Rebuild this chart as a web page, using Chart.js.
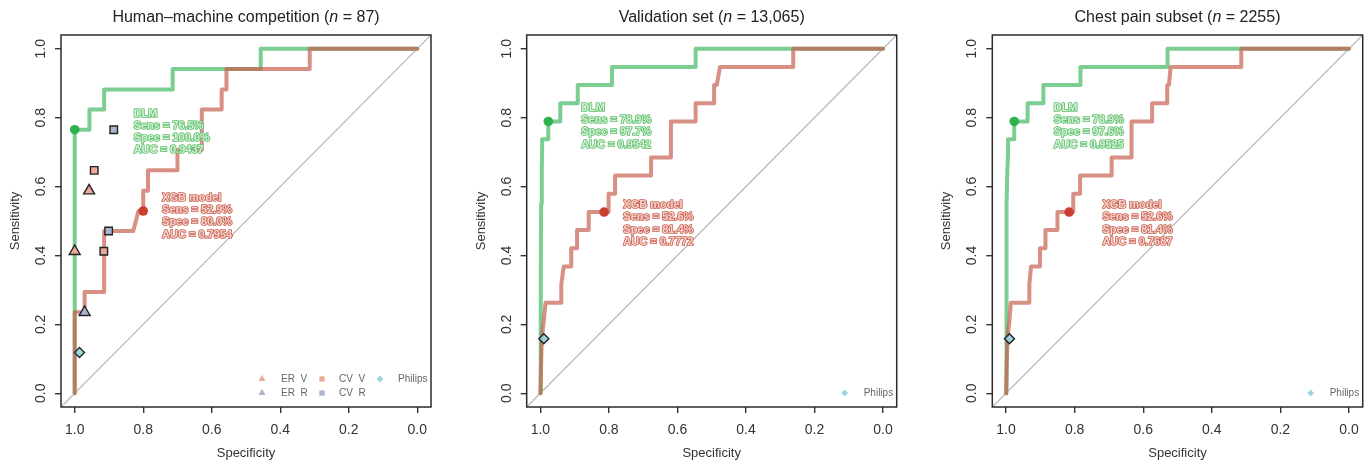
<!DOCTYPE html>
<html><head><meta charset="utf-8">
<script src="https://cdn.jsdelivr.net/npm/chart.js@4.4.1/dist/chart.umd.min.js"></script>
<style>
html,body{margin:0;padding:0;background:#fff;}
#wrap{position:relative;width:1370px;height:464px;overflow:hidden;background:#fff;}
.p{position:absolute;top:0;height:464px;}
canvas{display:block;}
</style></head><body>
<div id="wrap">
<div class="p" style="left:0;width:460px"><canvas id="c1"></canvas></div>
<div class="p" style="left:460px;width:460px"><canvas id="c2"></canvas></div>
<div class="p" style="left:920px;width:450px"><canvas id="c3"></canvas></div>
</div>
<script>
// ---------------- data ----------------
const TICKS = [0, 0.2, 0.4, 0.6, 0.8, 1.0];

// Panel 1: Human-machine competition
const hmDlmSpec = [1.000, 1.000, 0.957, 0.957, 0.914, 0.914, 0.714, 0.714, 0.457, 0.457, 0.000];
const hmDlmSens = [0.000, 0.765, 0.765, 0.824, 0.824, 0.882, 0.882, 0.941, 0.941, 1.000, 1.000];
const hmXgbSpec = [1.000, 1.000, 0.971, 0.971, 0.914, 0.914, 0.829, 0.814, 0.800, 0.800, 0.786, 0.786, 0.700, 0.700, 0.629, 0.629, 0.571, 0.571, 0.557, 0.557, 0.314, 0.314, 0.000];
const hmXgbSens = [0.000, 0.235, 0.235, 0.294, 0.294, 0.471, 0.471, 0.529, 0.529, 0.588, 0.588, 0.647, 0.647, 0.706, 0.706, 0.824, 0.824, 0.882, 0.882, 0.941, 0.941, 1.000, 1.000];
const hmDlmCut = [1.000, 0.765];
const hmXgbCut = [0.800, 0.529];
const hmErVSpec = [0.958, 1.000], hmErVSens = [0.588, 0.412];
const hmErRSpec = [0.971],        hmErRSens = [0.235];
const hmCvVSpec = [0.943, 0.915], hmCvVSens = [0.647, 0.412];
const hmCvRSpec = [0.886, 0.901], hmCvRSens = [0.765, 0.471];
const hmPhSpec = [0.986],         hmPhSens = [0.118];
const hmDlmText = ['DLM', 'Sens = 76.5%', 'Spec = 100.0%', 'AUC = 0.9437'];
const hmXgbText = ['XGB model', 'Sens = 52.9%', 'Spec = 80.0%', 'AUC = 0.7954'];

// Panel 2: Validation set
const vaDlmSpec = [1.000, 0.999, 0.998, 0.996, 0.995, 0.995, 0.977, 0.977, 0.942, 0.942, 0.891, 0.891, 0.791, 0.791, 0.547, 0.547, 0.000];
const vaDlmSens = [0.000, 0.300, 0.550, 0.650, 0.700, 0.737, 0.737, 0.789, 0.789, 0.842, 0.842, 0.895, 0.895, 0.947, 0.947, 1.000, 1.000];
const vaXgbSpec = [1.000, 0.996, 0.990, 0.985, 0.939, 0.939, 0.932, 0.910, 0.910, 0.893, 0.893, 0.859, 0.859, 0.801, 0.801, 0.782, 0.782, 0.677, 0.677, 0.619, 0.619, 0.547, 0.547, 0.493, 0.493, 0.485, 0.476, 0.262, 0.262, 0.000];
const vaXgbSens = [0.000, 0.158, 0.211, 0.263, 0.263, 0.316, 0.368, 0.368, 0.421, 0.421, 0.474, 0.474, 0.526, 0.526, 0.579, 0.579, 0.632, 0.632, 0.684, 0.684, 0.789, 0.789, 0.842, 0.842, 0.895, 0.895, 0.947, 0.947, 1.000, 1.000];
const vaDlmCut = [0.977, 0.789];
const vaXgbCut = [0.814, 0.526];
const vaPhSpec = [0.990], vaPhSens = [0.158];
const vaDlmText = ['DLM', 'Sens = 78.9%', 'Spec = 97.7%', 'AUC = 0.9542'];
const vaXgbText = ['XGB model', 'Sens = 52.6%', 'Spec = 81.4%', 'AUC = 0.7772'];

// Panel 3: Chest pain subset
const cpDlmSpec = [1.000, 0.999, 0.998, 0.996, 0.994, 0.994, 0.976, 0.976, 0.937, 0.937, 0.891, 0.891, 0.783, 0.783, 0.529, 0.529, 0.000];
const cpDlmSens = [0.000, 0.300, 0.550, 0.650, 0.700, 0.737, 0.737, 0.789, 0.789, 0.842, 0.842, 0.895, 0.895, 0.947, 0.947, 1.000, 1.000];
const cpXgbSpec = [1.000, 0.996, 0.990, 0.986, 0.932, 0.932, 0.927, 0.901, 0.901, 0.885, 0.885, 0.850, 0.850, 0.804, 0.804, 0.784, 0.784, 0.692, 0.692, 0.634, 0.634, 0.574, 0.574, 0.530, 0.530, 0.525, 0.520, 0.314, 0.314, 0.000];
const cpXgbSens = [0.000, 0.158, 0.211, 0.263, 0.263, 0.316, 0.368, 0.368, 0.421, 0.421, 0.474, 0.474, 0.526, 0.526, 0.579, 0.579, 0.632, 0.632, 0.684, 0.684, 0.789, 0.789, 0.842, 0.842, 0.895, 0.895, 0.947, 0.947, 1.000, 1.000];
const cpDlmCut = [0.976, 0.789];
const cpXgbCut = [0.816, 0.526];
const cpPhSpec = [0.990], cpPhSens = [0.158];
const cpDlmText = ['DLM', 'Sens = 78.9%', 'Spec = 97.6%', 'AUC = 0.9525'];
const cpXgbText = ['XGB model', 'Sens = 52.6%', 'Spec = 81.4%', 'AUC = 0.7687'];

const TITLES = [
  ['Human\u2013machine competition (', 'n', ' = 87)'],
  ['Validation set (', 'n', ' = 13,065)'],
  ['Chest pain subset (', 'n', ' = 2255)']
];
const X_TITLE = 'Specificity';
const Y_TITLE = 'Sensitivity';

// ---------------- styles ----------------
const FONT = '"Liberation Sans", Arial, Helvetica, sans-serif';
const GREEN = 'rgb(124,205,146)';
const RED = 'rgba(200,95,80,0.70)';
const GREEN_DOT = '#2eb34c';
const RED_DOT = '#c9402f';
const SALMON = '#eba797';
const BLUE = '#a9b4d2';
const CYAN = 'rgba(150,210,222,0.9)';
const AXIS = '#333';

const pts = (xs, ys) => xs.map((v, i) => ({x: v, y: ys[i]}));

function lineDs(xs, ys, color, order) {
  return {data: pts(xs, ys), showLine: true, borderColor: color, borderWidth: 4,
    pointRadius: 0, pointHoverRadius: 0, order, borderJoinStyle: 'round', borderCapStyle: 'round', tension: 0};
}
function markDs(xs, ys, style, radius, fill, border, order) {
  return {data: pts(xs, ys), showLine: false, pointStyle: style, pointRadius: radius, pointHoverRadius: radius,
    backgroundColor: fill, borderColor: border, borderWidth: border === fill ? 0 : 1.4, order};
}

const decor = {
  id: 'decor',
  afterDatasetsDraw(chart, args, opts) {
    const {ctx, scales: {x, y}} = chart;
    ctx.save();
    const drawLabel = (lines, at, stroke, fill) => {
      ctx.font = 'bold 11px ' + FONT;
      ctx.textAlign = 'left'; ctx.textBaseline = 'middle';
      ctx.lineJoin = 'round'; ctx.lineWidth = 1.7;
      ctx.strokeStyle = stroke; ctx.fillStyle = fill;
      const px = x.getPixelForValue(at[0]), py = y.getPixelForValue(at[1]);
      lines.forEach((t, i) => { ctx.strokeText(t, px, py + i * 12.3); ctx.fillText(t, px, py + i * 12.3); });
    };
    drawLabel(opts.dlmText, opts.dlmAt, '#5cbf6c', '#d4f0d5');
    drawLabel(opts.xgbText, opts.xgbAt, '#c9604f', '#f5d3cc');
    ctx.restore();
  },
  afterDraw(chart, args, opts) {
    const {ctx, chartArea: a} = chart;
    ctx.save();
    ctx.strokeStyle = '#2b2b2b'; ctx.lineWidth = 1.5;
    ctx.strokeRect(a.left, a.top, a.right - a.left, a.bottom - a.top);
    const parts = opts.title;
    const fonts = ['16px ' + FONT, 'italic 16px ' + FONT, '16px ' + FONT];
    const widths = parts.map((p, i) => { ctx.font = fonts[i]; return ctx.measureText(p).width; });
    const total = widths.reduce((s, w) => s + w, 0);
    let cx = (a.left + a.right) / 2 - total / 2;
    ctx.fillStyle = '#222'; ctx.textBaseline = 'middle'; ctx.textAlign = 'left';
    parts.forEach((p, i) => { ctx.font = fonts[i]; ctx.fillText(p, cx, 18); cx += widths[i]; });
    ctx.font = '10px ' + FONT; ctx.textBaseline = 'middle';
    opts.legend.forEach(it => {
      const sx = a.right - it.dx, sy = a.bottom - it.dy;
      ctx.fillStyle = it.color;
      ctx.beginPath();
      Chart.helpers.drawPoint(ctx, {pointStyle: it.style, radius: it.r, rotation: 0, borderWidth: 0}, sx, sy);
      ctx.fill();
      ctx.fillStyle = '#666';
      ctx.fillText(it.text, a.right - it.tx, sy);
    });
    ctx.restore();
  }
};

function makeChart(id, w, padL, padR, p) {
  const cv = document.getElementById(id);
  cv.width = w; cv.height = 464; cv.style.width = w + 'px'; cv.style.height = '464px';
  const ds = [
    {data: pts([1.04, -0.04], [-0.04, 1.04]), showLine: true, borderColor: '#b4b4b4', borderWidth: 1.2, pointRadius: 0, order: 20},
    lineDs(p.dlmSpec, p.dlmSens, GREEN, 19),
    lineDs(p.xgbSpec, p.xgbSens, RED, 18),
    markDs([p.dlmCut[0]], [p.dlmCut[1]], 'circle', 4.8, GREEN_DOT, GREEN_DOT, 10),
    markDs([p.xgbCut[0]], [p.xgbCut[1]], 'circle', 4.8, RED_DOT, RED_DOT, 10),
    ...p.marks
  ];
  const scaleCommon = {
    type: 'linear', min: -0.04, max: 1.04,
    afterBuildTicks(s) { s.ticks = TICKS.map(v => ({value: v})); },
    grid: {display: true, drawOnChartArea: false, drawTicks: true, tickLength: 6, tickColor: AXIS, tickWidth: 1.4, color: AXIS, lineWidth: 1.4},
    border: {display: false}
  };
  return new Chart(cv, {
    type: 'scatter',
    data: {datasets: ds},
    options: {
      responsive: false, animation: false, devicePixelRatio: 1,
      layout: {padding: {left: padL, right: padR, top: 35, bottom: 0}},
      plugins: {legend: {display: false}, tooltip: {enabled: false}, title: {display: false},
        decor: {title: p.title, legend: p.legend, dlmText: p.dlmText, xgbText: p.xgbText, dlmAt: p.dlmAt, xgbAt: p.xgbAt}},
      scales: {
        x: Object.assign({}, scaleCommon, {
          reverse: true, position: 'bottom',
          afterFit(s) { s.height = 57; },
          ticks: {color: AXIS, font: {family: FONT, size: 14}, padding: 9, minRotation: 0, maxRotation: 0, autoSkip: false,
            callback: v => Number(v).toFixed(1)},
          title: {display: true, text: X_TITLE, color: AXIS, font: {family: FONT, size: 13}, padding: {top: 0, bottom: 3}}
        }),
        y: Object.assign({}, scaleCommon, {
          position: 'left',
          afterFit(s) { s.width = 61; },
          ticks: {color: AXIS, font: {family: FONT, size: 14}, padding: 4, minRotation: 90, maxRotation: 90, autoSkip: false,
            crossAlign: 'center', callback: v => Number(v).toFixed(1)},
          title: {display: true, text: Y_TITLE, color: AXIS, font: {family: FONT, size: 13}, padding: {top: 7.7, bottom: 0}}
        })
      }
    },
    plugins: [decor]
  });
}

const salmonT = 'rgba(235,167,151,0.75)', blueT = 'rgba(169,180,210,0.8)', cyanT = 'rgba(150,210,222,0.8)';
const legend1 = [
  {style: 'triangle', r: 4, color: salmonT, dx: 169, dy: 28, text: 'ER  V', tx: 150},
  {style: 'triangle', r: 4, color: blueT, dx: 169, dy: 14, text: 'ER  R', tx: 150},
  {style: 'rect', r: 3.6, color: salmonT, dx: 109, dy: 28, text: 'CV  V', tx: 92},
  {style: 'rect', r: 3.6, color: blueT, dx: 109, dy: 14, text: 'CV  R', tx: 92},
  {style: 'rectRot', r: 3.2, color: cyanT, dx: 51, dy: 28, text: 'Philips', tx: 33}
];
const legend23 = [
  {style: 'rectRot', r: 3.2, color: cyanT, dx: 52, dy: 14, text: 'Philips', tx: 33}
];

makeChart('c1', 460, 0, 29, {
  dlmSpec: hmDlmSpec, dlmSens: hmDlmSens, xgbSpec: hmXgbSpec, xgbSens: hmXgbSens,
  dlmCut: hmDlmCut, xgbCut: hmXgbCut,
  marks: [
    markDs(hmErVSpec, hmErVSens, 'triangle', 6.3, SALMON, '#222', 5),
    markDs(hmErRSpec, hmErRSens, 'triangle', 6.3, BLUE, '#222', 5),
    markDs(hmCvVSpec, hmCvVSens, 'rect', 5.3, SALMON, '#222', 5),
    markDs(hmCvRSpec, hmCvRSens, 'rect', 5.3, BLUE, '#222', 5),
    markDs(hmPhSpec, hmPhSens, 'rectRot', 5, CYAN, '#222', 5)
  ],
  title: TITLES[0], legend: legend1,
  dlmText: hmDlmText, xgbText: hmXgbText, dlmAt: [0.828, 0.812], xgbAt: [0.745, 0.568]
});
makeChart('c2', 460, 5.7, 23.3, {
  dlmSpec: vaDlmSpec, dlmSens: vaDlmSens, xgbSpec: vaXgbSpec, xgbSens: vaXgbSens,
  dlmCut: vaDlmCut, xgbCut: vaXgbCut,
  marks: [markDs(vaPhSpec, vaPhSens, 'rectRot', 5, CYAN, '#222', 5)],
  title: TITLES[1], legend: legend23,
  dlmText: vaDlmText, xgbText: vaXgbText, dlmAt: [0.881, 0.829], xgbAt: [0.758, 0.546]
});
makeChart('c3', 450, 11.3, 7.3, {
  dlmSpec: cpDlmSpec, dlmSens: cpDlmSens, xgbSpec: cpXgbSpec, xgbSens: cpXgbSens,
  dlmCut: cpDlmCut, xgbCut: cpXgbCut,
  marks: [markDs(cpPhSpec, cpPhSens, 'rectRot', 5, CYAN, '#222', 5)],
  title: TITLES[2], legend: legend23,
  dlmText: cpDlmText, xgbText: cpXgbText, dlmAt: [0.861, 0.829], xgbAt: [0.719, 0.546]
});
</script>
</body></html>
